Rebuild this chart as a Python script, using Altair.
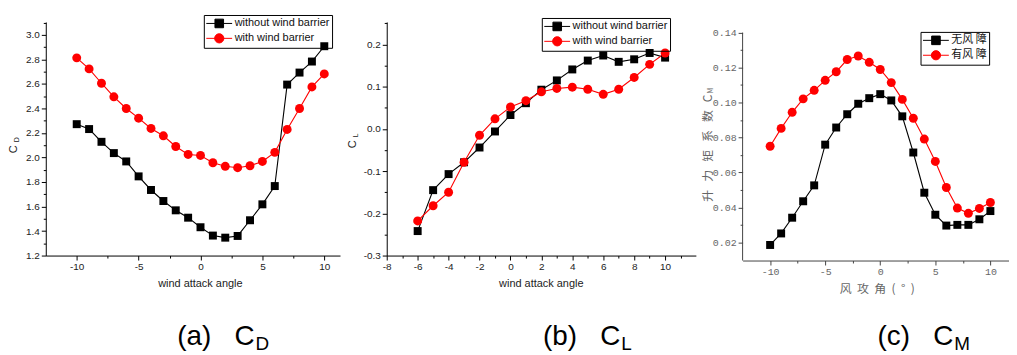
import altair as alt
import pandas as pd

# ---------------- data ----------------
angles_cd = list(range(-10, 11))
cd_without = [2.272, 2.232, 2.128, 2.036, 1.968, 1.846, 1.735, 1.645, 1.569, 1.509, 1.431,
              1.363, 1.346, 1.360, 1.488, 1.618, 1.767, 2.595, 2.693, 2.783, 2.908]
cd_with = [2.813, 2.723, 2.606, 2.495, 2.400, 2.321, 2.237, 2.177, 2.090, 2.025, 2.017,
           1.957, 1.928, 1.917, 1.933, 1.968, 2.042, 2.229, 2.400, 2.576, 2.682]

angles_cl = list(range(-6, 11))
cl_without = [-0.242, -0.145, -0.107, -0.079, -0.044, -0.006, 0.033, 0.061, 0.093,
              0.115, 0.141, 0.162, 0.174, 0.159, 0.165, 0.180, 0.169]
cl_with = [-0.218, -0.182, -0.150, -0.079, -0.015, 0.024, 0.052, 0.067, 0.088,
           0.096, 0.099, 0.094, 0.082, 0.094, 0.122, 0.153, 0.180]

angles_cm = list(range(-10, 11))
cm_without = [0.0185, 0.0251, 0.0341, 0.0435, 0.0526, 0.0759, 0.0857, 0.0933, 0.0993, 0.1025,
              0.1048, 0.1012, 0.0921, 0.0714, 0.0484, 0.0358, 0.0296, 0.0300, 0.0300, 0.0332, 0.0379]
cm_with = [0.0750, 0.0852, 0.0944, 0.1021, 0.1070, 0.1127, 0.1176, 0.1246, 0.1266, 0.1230,
           0.1189, 0.1114, 0.1018, 0.0910, 0.0791, 0.0663, 0.0514, 0.0396, 0.0366, 0.0394, 0.0428]

NB = "\u00a0"
series_en = ["without wind barrier", "with wind barrier"]
series_zh = ["无风" + NB + "障", "有风" + NB + "障"]

# tick values: major (labelled) and minor
cd_x_major = [-10, -5, 0, 5, 10]
cd_x_minor = [-7.5, -2.5, 2.5, 7.5]
cd_y_major = [1.2, 1.4, 1.6, 1.8, 2.0, 2.2, 2.4, 2.6, 2.8, 3.0]
cd_y_minor = [1.3, 1.5, 1.7, 1.9, 2.1, 2.3, 2.5, 2.7, 2.9, 3.1]
cl_x_major = [-8, -6, -4, -2, 0, 2, 4, 6, 8, 10]
cl_x_minor = [-7, -5, -3, -1, 1, 3, 5, 7, 9, 11]
cl_y_major = [-0.3, -0.2, -0.1, 0.0, 0.1, 0.2]
cl_y_minor = [-0.25, -0.15, -0.05, 0.05, 0.15, 0.25]
cm_x_major = [-10, -5, 0, 5, 10]
cm_x_minor = [-7.5, -2.5, 2.5, 7.5]
cm_y_major = [0.02, 0.04, 0.06, 0.08, 0.10, 0.12, 0.14]
cm_y_minor = [0.03, 0.05, 0.07, 0.09, 0.11, 0.13]

BLACK = "#000000"
RED = "#ff0000"
# legend glyphs: a line with a marker, drawn wider than the nominal symbol size
SQ_PATH = "M-1,0H3.33M0.45,-0.72H1.89V0.72H0.45Z"
CI_PATH = "M-1,0H3.33M1.94,0A0.77,0.77,0,1,1,0.4,0A0.77,0.77,0,1,1,1.94,0Z"

SANS = "Liberation Sans"
CJK = "Noto Sans CJK SC"
MONO = "Liberation Mono"


def long_df(angles, a, b, names):
    return pd.DataFrame({
        "angle": angles + angles,
        "value": a + b,
        "series": [names[0]] * len(angles) + [names[1]] * len(angles),
    })


def one(text):
    return pd.DataFrame({"t": [text]})


def panel(cfg):
    names = cfg["names"]
    df = long_df(cfg["angles"], cfg["a"], cfg["b"], names)
    xs = alt.Scale(domain=cfg["xdom"], nice=False, zero=False)
    ys = alt.Scale(domain=cfg["ydom"], nice=False, zero=False)
    axc = cfg["axis_color"]
    lc = cfg["lab_color"]
    common = dict(grid=False, domainColor=axc, tickColor=axc, labelFlush=False,
                  labelOverlap=False, labelFont=cfg["lab_font"], labelFontSize=10,
                  labelColor=lc, labelPadding=2, tickWidth=1, domainWidth=1)
    x_major = alt.Axis(values=cfg["xmaj"], labelExpr=cfg["xlab"], tickSize=4.5, orient="bottom",
                       title=cfg["xtitle"], titleFont=cfg["title_font"],
                       titleFontSize=cfg["title_size"], titleFontWeight="normal", titleColor=lc,
                       titleX=cfg["xtitle_x"], titleY=28, titleBaseline="middle",
                       titleAlign="center", **common)
    y_major = alt.Axis(values=cfg["ymaj"], labelExpr=cfg["ylab"], tickSize=4.5, orient="left",
                       title=None, domain=cfg.get("rule") is None, **common)
    x_minor = alt.Axis(values=cfg["xmin"], labels=False, tickSize=2.5, orient="bottom",
                       title=None, domain=False, grid=False, tickColor=axc, tickWidth=1)
    y_minor = alt.Axis(values=cfg["ymin"], labels=False, tickSize=2.5, orient="left",
                       title=None, domain=False, grid=False, tickColor=axc, tickWidth=1)

    base = alt.Chart(df)
    d0 = base.transform_filter(alt.datum.series == names[0])
    d1 = base.transform_filter(alt.datum.series == names[1])
    line0 = d0.mark_line(strokeWidth=1.1, color=BLACK).encode(
        x=alt.X("angle:Q", scale=xs, axis=x_major),
        y=alt.Y("value:Q", scale=ys, axis=y_major),
    )
    line1 = d1.mark_line(strokeWidth=1.1, color=RED).encode(
        x=alt.X("angle:Q", scale=xs, axis=x_minor),
        y=alt.Y("value:Q", scale=ys, axis=y_minor),
    )
    squares = d0.mark_point(shape="square", filled=True, size=64, opacity=1, color=BLACK).encode(
        x=alt.X("angle:Q", axis=None), y=alt.Y("value:Q", axis=None))
    circles = d1.mark_point(shape="circle", filled=True, size=81, opacity=1, color=RED).encode(
        x=alt.X("angle:Q", axis=None), y=alt.Y("value:Q", axis=None))

    col_scale = alt.Scale(domain=names, range=[BLACK, RED])
    leg = alt.Legend(title=None, orient="none", legendX=cfg["leg_x"], legendY=cfg["leg_y"],
                     strokeColor="black", padding=2, labelFont=cfg["leg_font"],
                     labelFontSize=cfg["leg_size"], labelColor="#111111", labelOffset=16,
                     symbolSize=144, symbolStrokeWidth=1, rowPadding=1, labelLimit=400,
                     symbolOpacity=1)
    legend_layer = base.transform_filter("false").mark_point(
        filled=True, opacity=1, size=144, strokeWidth=1
    ).encode(
        x=alt.X("angle:Q", axis=None), y=alt.Y("value:Q", axis=None),
        stroke=alt.Stroke("series:N", scale=col_scale, legend=leg),
        fill=alt.Fill("series:N", scale=col_scale, legend=leg),
        shape=alt.Shape("series:N", scale=alt.Scale(domain=names, range=[SQ_PATH, CI_PATH]),
                        legend=leg),
    )
    layers = [line0, line1, squares, circles, legend_layer]
    if cfg.get("rule") is not None:
        rx, r1, r2 = cfg["rule"]
        layers.append(alt.Chart(pd.DataFrame({"rx": [rx], "r1": [r1], "r2": [r2]})).mark_rule(
            color=axc, strokeWidth=1).encode(
            x=alt.X("rx:Q", axis=None), y=alt.Y("r1:Q", axis=None), y2="r2:Q"))
    for (txt, tx, ty, tsz, talign, tfont, tcol) in cfg["ytitle"]:
        layers.append(alt.Chart(one(txt)).mark_text(
            angle=270, align=talign, baseline="middle", fontSize=tsz, font=tfont, color=tcol
        ).encode(text="t:N", x=alt.value(tx), y=alt.value(ty)))
    for (txt, tx, ty, tsz, talign) in cfg["caption"]:
        layers.append(alt.Chart(one(txt)).mark_text(
            align=talign, baseline="alphabetic", fontSize=tsz, font=SANS, color="black"
        ).encode(text="t:N", x=alt.value(tx), y=alt.value(ty)))
    return alt.layer(*layers).resolve_axis(x="independent", y="independent").properties(
        width=cfg["w"], height=cfg["h"])


neg_int = "(datum.value < 0 ? '-' : '') + format(abs(datum.value), 'd')"
GAP = NB * 3

p1 = panel(dict(
    names=series_en, angles=angles_cd, a=cd_without, b=cd_with,
    xdom=[-12.5, 11.27], ydom=[1.2, 3.106], w=296, h=235,
    xmaj=cd_x_major, xmin=cd_x_minor, ymaj=cd_y_major, ymin=cd_y_minor,
    xlab=neg_int, ylab="format(datum.value, '.1f')",
    xtitle="wind attack angle", xtitle_x=155, title_font=SANS, title_size=11,
    lab_font=SANS, lab_color="#222222", axis_color="#000000",
    leg_x=159, leg_y=-7, leg_font=SANS, leg_size=11,
    ytitle=[("C", -32, 128, 11, "center", SANS, "#222222"),
            ("D", -29, 121, 7, "left", SANS, "#222222")],
    caption=[("(a)" + GAP + "C", 210, 325, 28, "right"), ("D", 211, 330, 19, "left")],
))

p2 = panel(dict(
    names=series_en, angles=angles_cl, a=cl_without, b=cl_with,
    xdom=[-8, 11.99], ydom=[-0.3, 0.2535], w=311, h=235,
    xmaj=cl_x_major, xmin=cl_x_minor, ymaj=cl_y_major, ymin=cl_y_minor,
    xlab=neg_int,
    ylab="(datum.value < -0.000001 ? '-' : '') + format(abs(datum.value), '.1f')",
    xtitle="wind attack angle", xtitle_x=155, title_font=SANS, title_size=11,
    lab_font=SANS, lab_color="#222222", axis_color="#000000",
    leg_x=156, leg_y=-4, leg_font=SANS, leg_size=11,
    ytitle=[("C", -34, 123, 11, "center", SANS, "#222222"),
            ("L", -31, 116, 7, "left", SANS, "#222222")],
    caption=[("(b)" + GAP + "C", 235, 325, 28, "right"), ("L", 236, 330, 19, "left")],
))

p3 = panel(dict(
    names=series_zh, angles=angles_cm, a=cm_without, b=cm_with,
    xdom=[-12.5, 11.69], ydom=[0.0096, 0.1461], w=268, h=240,
    xmaj=cm_x_major, xmin=cm_x_minor, ymaj=cm_y_major, ymin=cm_y_minor,
    xlab=neg_int, ylab="format(datum.value, '.2f')",
    xtitle=(NB * 2).join(["风", "攻", "角", "(", "°", ")"]), xtitle_x=135, title_font=CJK,
    title_size=12,
    lab_font=MONO, lab_color="#666666", axis_color="#444444",
    leg_x=179, leg_y=10, leg_font=CJK, leg_size=11,
    ytitle=[((NB * 3).join(["升", "力", "矩", "系", "数", "C"]), -35, 73, 12, "right", CJK, "#666666"),
            ("M", -32, 72, 7, "left", CJK, "#666666")],
    caption=[("(c)" + GAP + "C", 212, 325, 28, "right"), ("M", 213, 330, 19, "left")],
    rule=(-12.5, 0.0096, 0.14),
))

chart = alt.hconcat(p1, p2, p3, spacing=47, bounds="flush").resolve_scale(
    stroke="independent", fill="independent", shape="independent"
).resolve_legend(
    stroke="independent", fill="independent", shape="independent"
).properties(
    padding={"left": 0, "top": 5, "right": 0, "bottom": 0}
).configure_view(stroke=None)

chart.save("out.html", embed_options={"renderer": "svg", "actions": False})
